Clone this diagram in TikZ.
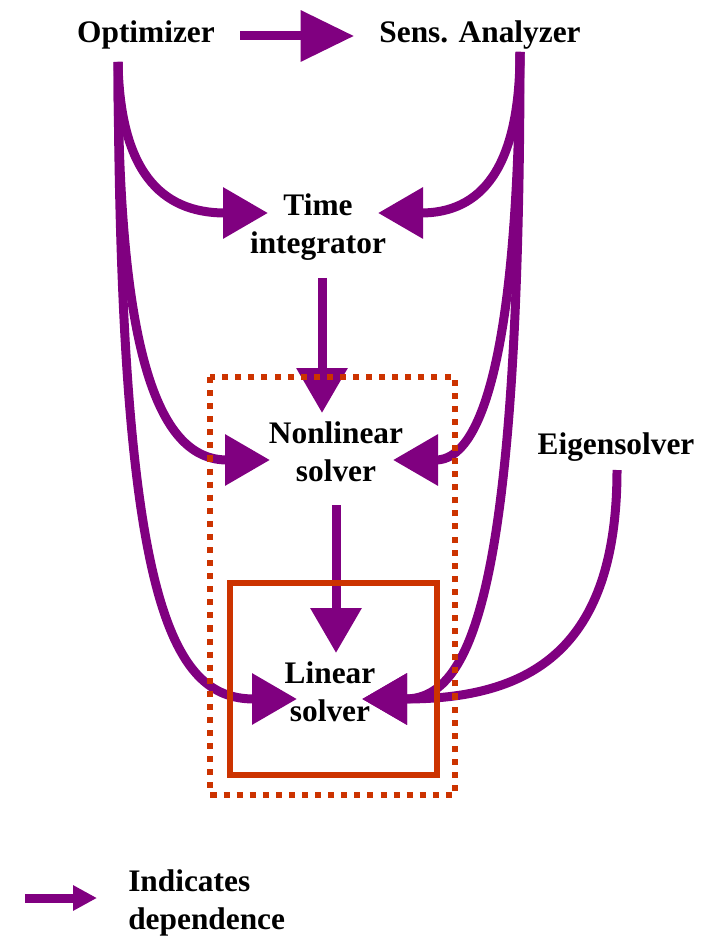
\documentclass[tikz,border=0pt]{standalone}
\usepackage{fontspec}
\setmainfont{Liberation Serif}
\definecolor{DepPurple}{HTML}{800080}
\definecolor{BoxRed}{HTML}{CC3300}
\usetikzlibrary{arrows.meta,calc}

\begin{document}
\begin{tikzpicture}[x=0.025cm,y=-0.025cm,
  lbl/.style={font=\fontsize{22.3}{27}\selectfont\bfseries,align=center,inner sep=0pt},
  dep/.style={DepPurple,line width=6.4pt,-{Triangle[length=32pt,width=35pt]}}]
  \useasboundingbox (0,0) rectangle (707,937);
  \node[lbl] (opt) at (146,35) {Optimizer};
  \node[lbl] (sens) at (480,35) {Sens. Analyzer};
  \node[lbl] (time) at (318,227) {Time\\integrator};
  \node[lbl] (nonlin) at (336,452) {Nonlinear\\solver};
  \node[lbl] (lin) at (330,692) {Linear\\solver};
  \node[lbl] (eig) at (616,447) {Eigensolver};
  \node[lbl,align=left,anchor=west] (legend) at (128,903) {Indicates\\dependence};
  \coordinate (optfoot) at ($(opt)+(-28,27)$);
  \coordinate (sensfoot) at ($(sens)+(40,17)$);
  \coordinate (eigfoot) at ($(eig)+(1,23)$);
  \coordinate (legtail) at (25,898);
  % straight dependences
  \draw[dep,-{Triangle[length=38pt,width=35pt]}] ($(opt.east)+(25,1)$) -- ($(sens.west)+(-25,1)$);
  \draw[dep] ($(time)+(4,51)$) -- ($(nonlin)+(-14,-39)$);
  \draw[dep] ($(nonlin)+(0,53)$) -- ($(lin)+(6,-39)$);
  % curved dependences
  \draw[dep] (optfoot) .. controls +(2,108) and +(-108,0) .. ($(time)+(-50,-14)$);
  \draw[dep] (optfoot) .. controls +(0,298) and +(-110,0) .. ($(nonlin)+(-66,8)$);
  \draw[dep] (optfoot) .. controls +(2,538) and +(-127,0) .. ($(lin)+(-33,7)$);
  \draw[dep] (sensfoot) .. controls +(0,118) and +(102,0) .. ($(time)+(60,-14)$);
  \draw[dep] (sensfoot) .. controls +(-2,308) and +(87,0) .. ($(nonlin)+(57,8)$);
  \draw[dep] (sensfoot) .. controls +(0,548) and +(108,0) .. ($(lin)+(32,7)$);
  \draw[dep] (eigfoot) .. controls +(0,180) and +(168,0) .. ($(lin)+(32,7)$);
  % solver boxes
  \draw[BoxRed,line width=4.3pt,dash pattern=on 4.3pt off 5pt] (210,377) rectangle (455,795);
  \draw[BoxRed,line width=4.3pt] (230,583) rectangle (437,775);
  \draw[dep,-{Triangle[length=17pt,width=17pt]}] (legtail) -- ($(legend.west)+(-31,-5)$);
\end{tikzpicture}
\end{document}
